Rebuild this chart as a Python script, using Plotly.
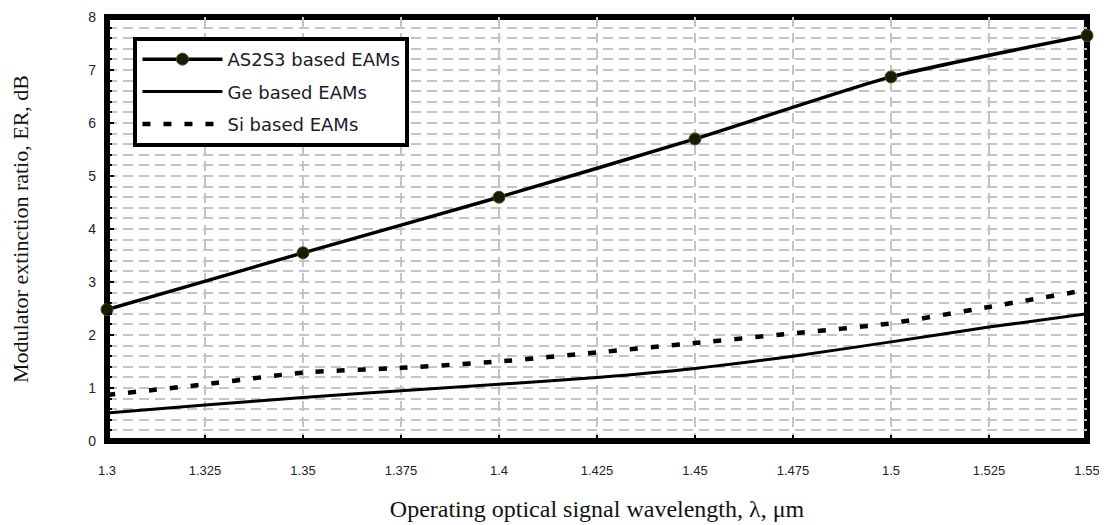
import plotly.graph_objects as go

# ---- data ----
wavelength = [1.3, 1.325, 1.35, 1.375, 1.4, 1.425, 1.45, 1.475, 1.5, 1.525, 1.55]
as2s3_wl = [1.3, 1.35, 1.4, 1.45, 1.5, 1.55]
as2s3_er = [2.48, 3.55, 4.6, 5.7, 6.87, 7.65]
ge_er = [0.53, 0.68, 0.82, 0.95, 1.07, 1.2, 1.37, 1.6, 1.87, 2.15, 2.4]
si_er = [0.87, 1.07, 1.29, 1.38, 1.5, 1.67, 1.85, 2.03, 2.22, 2.53, 2.85]

x_tick_vals = [1.3, 1.325, 1.35, 1.375, 1.4, 1.425, 1.45, 1.475, 1.5, 1.525, 1.55]
x_tick_text = ["1.3", "1.325", "1.35", "1.375", "1.4", "1.425", "1.45", "1.475", "1.5", "1.525", "1.55"]
y_tick_vals = [0, 1, 2, 3, 4, 5, 6, 7, 8]

series_names = ["AS2S3 based EAMs", "Ge based EAMs", "Si based EAMs"]

fig = go.Figure()

fig.add_trace(go.Scatter(
    x=as2s3_wl, y=as2s3_er, name=series_names[0], mode="lines+markers",
    line=dict(color="black", width=3.5, shape="spline", smoothing=0.6),
    marker=dict(size=12, color="#1a1a05", line=dict(color="#4a4a10", width=1)),
    cliponaxis=False, legendgroup="a",
))
fig.add_trace(go.Scatter(
    x=wavelength, y=ge_er, name=series_names[1], mode="lines",
    line=dict(color="black", width=3, shape="spline", smoothing=0.6),
    legendgroup="b",
))
fig.add_trace(go.Scatter(
    x=wavelength, y=si_er, name=series_names[2], mode="lines",
    line=dict(color="black", width=4.5, dash="8px,13px", shape="spline", smoothing=0.6),
    legendgroup="c",
))

grid_color = "#c4c4c4"
grid_dash = "10px,6px"

# page body has an 8px margin, so the figure is sized to fit the window
fig.update_layout(
    width=1099, height=517, autosize=False,
    margin=dict(l=99, r=20, t=9, b=84),
    paper_bgcolor="white", plot_bgcolor="white",
    showlegend=True,
    legend=dict(
        x=0.027, y=0.953, xanchor="left", yanchor="top",
        bgcolor="white", bordercolor="black", borderwidth=4,
        font=dict(family="DejaVu Sans, Arial, sans-serif", size=18, color="#1a1a2a"),
        itemwidth=80, tracegroupgap=6, traceorder="grouped",
    ),
    xaxis=dict(
        range=[1.3, 1.55], automargin=False,
        tickvals=x_tick_vals, ticktext=x_tick_text,
        ticks="inside", ticklen=6, tickcolor="black", tickwidth=1.5,
        ticklabelstandoff=20,
        tickfont=dict(family="Liberation Sans, Arial, sans-serif", size=13, color="#222233"),
        showgrid=True, gridcolor=grid_color, griddash=grid_dash, gridwidth=1.5,
        zeroline=False, showline=False,
        title=dict(text="Operating optical signal wavelength, λ, μm",
                   font=dict(family="Liberation Serif, Times New Roman, serif", size=24, color="#111111"),
                   standoff=23),
    ),
    yaxis=dict(
        range=[0, 8], automargin=False,
        tickvals=y_tick_vals,
        ticks="inside", ticklen=7, tickcolor="black", tickwidth=1.5,
        ticklabelstandoff=10,
        tickfont=dict(family="Liberation Sans, Arial, sans-serif", size=14, color="#222233"),
        showgrid=True, gridcolor=grid_color, griddash=grid_dash, gridwidth=1.5,
        minor=dict(dtick=0.2, showgrid=True, gridcolor=grid_color, griddash=grid_dash,
                   gridwidth=1.5, ticks="inside", ticklen=5, tickcolor="black"),
        zeroline=False, showline=False,
        title=dict(text="Modulator extinction ratio, ER, dB",
                   font=dict(family="Liberation Serif, Times New Roman, serif", size=22, color="#111111"),
                   standoff=56),
    ),
    shapes=[dict(type="rect", xref="paper", yref="paper", x0=0, y0=0, x1=1, y1=1,
                 line=dict(color="black", width=6), layer="between")],
)

fig.write_html("out.html")
